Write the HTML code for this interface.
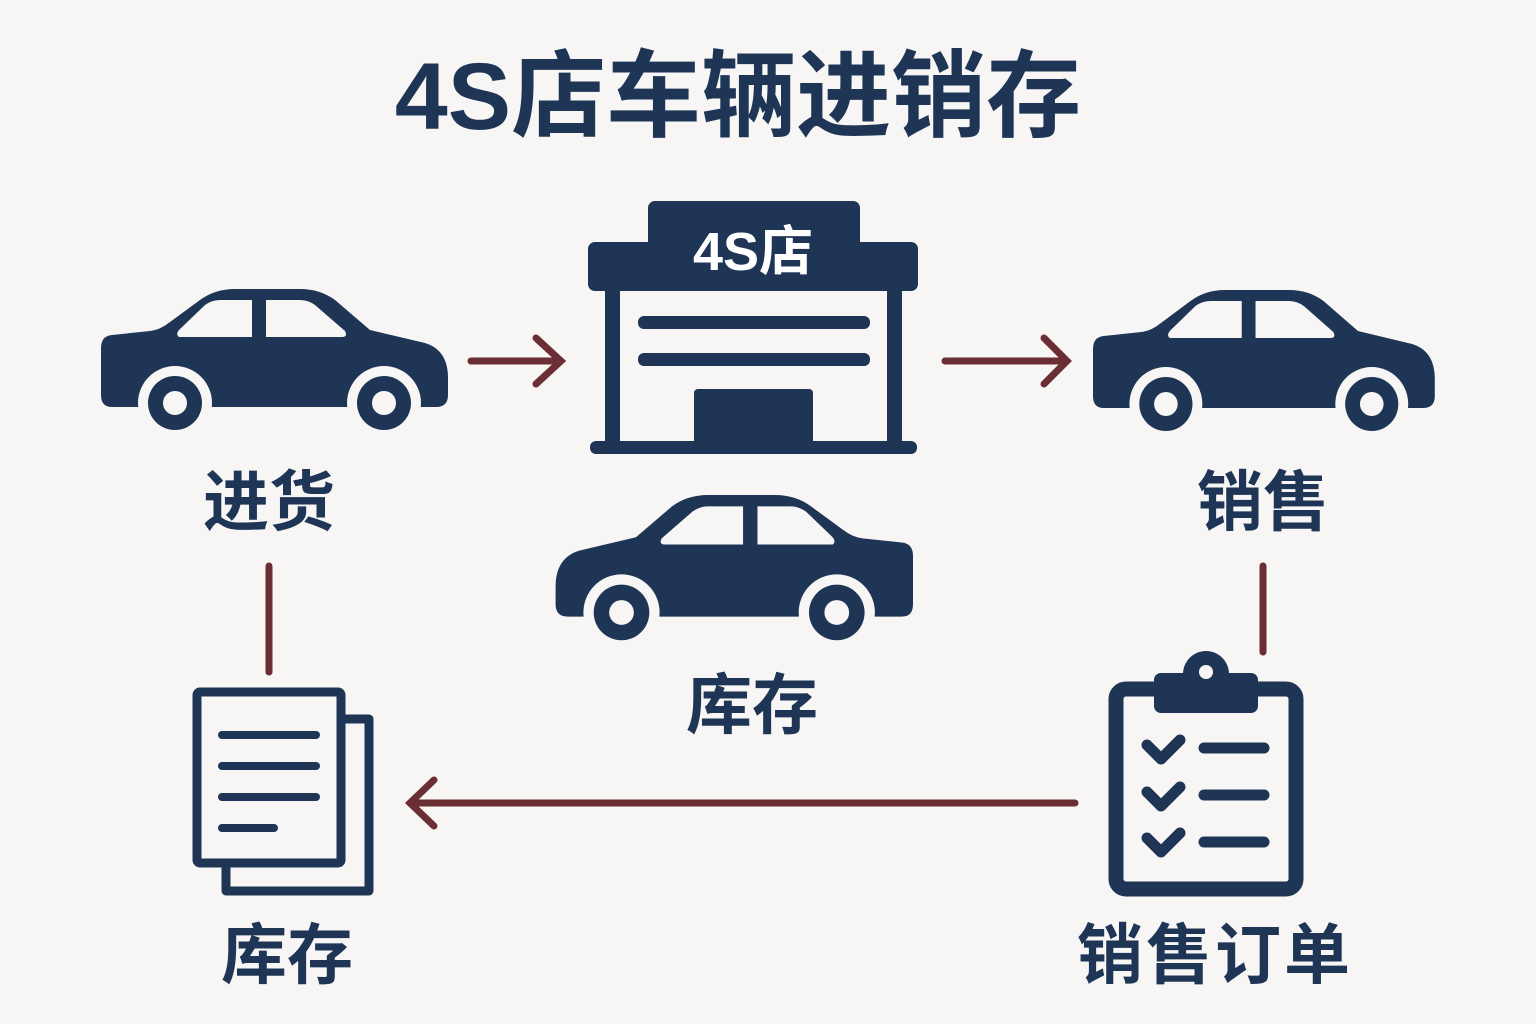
<!DOCTYPE html>
<html><head><meta charset="utf-8"><style>
html,body{margin:0;padding:0;background:#f7f6f4;}
svg{display:block}
text{font-family:"Liberation Sans","Noto Sans CJK SC",sans-serif;font-weight:bold;fill:#1e3556;text-anchor:middle}
</style></head><body>
<svg width="1536" height="1024" viewBox="0 0 1536 1024" xmlns="http://www.w3.org/2000/svg">
<defs>
<g id="car">
<path d="M112,335 L150,331 Q160,330 170,322 L200,300 Q215,289 235,289 L300,289 Q320,289 335,300 L370,330 L425,343 Q448,350 448,378 L448,395 Q448,407 436,407 L112,407 Q101,407 101,395 L101,348 Q101,336 112,335 Z" fill="#1e3556"/>
<path d="M179,337 Q175,334 180,329 L205,305 Q212,300 220,300 L252,300 L252,337 Z" fill="#f7f6f4"/>
<path d="M266,300 L300,300 Q308,300 315,305 L345,331 Q348,337 342,337 L266,337 Z" fill="#f7f6f4"/>
<circle cx="175" cy="403" r="37" fill="#f7f6f4"/>
<circle cx="384" cy="403" r="37" fill="#f7f6f4"/>
<circle cx="175" cy="403" r="27" fill="#1e3556"/>
<circle cx="384" cy="403" r="27" fill="#1e3556"/>
<circle cx="175" cy="403" r="12" fill="#f7f6f4"/>
<circle cx="384" cy="403" r="12" fill="#f7f6f4"/>
</g>
</defs>
<text x="738" y="129" font-size="95">4S店车辆进销存</text>

<use href="#car"/>
<use href="#car" transform="translate(1093,288) scale(0.985,1) translate(-101,-287)"/>
<use href="#car" transform="translate(913,493) scale(-1.03,1.03) translate(-101,-287)"/>

<!-- building -->
<g fill="#1e3556">
<rect x="648" y="201" width="212" height="50" rx="7"/>
<rect x="588" y="242" width="330" height="49" rx="7"/>
<rect x="605" y="285" width="15" height="160"/>
<rect x="887" y="285" width="15" height="160"/>
<rect x="590" y="441" width="327" height="13" rx="6"/>
<rect x="638" y="316" width="232" height="13" rx="6"/>
<rect x="638" y="353" width="232" height="13" rx="6"/>
<rect x="694" y="389" width="119" height="56" rx="4"/>
</g>
<text x="753" y="270" font-size="54" style="fill:#fff">4S店</text>

<!-- connectors -->
<g stroke="#6b2e35" stroke-width="7" stroke-linecap="round" fill="none">
<line x1="471" y1="361" x2="560" y2="361"/>
<polyline points="536,338 561,361 536,384"/>
<line x1="945" y1="361" x2="1066" y2="361"/>
<polyline points="1044,338 1067,361 1044,384"/>
<line x1="269" y1="566" x2="269" y2="672"/>
<line x1="1263" y1="566" x2="1263" y2="652"/>
<line x1="1075" y1="803" x2="410" y2="803"/>
<polyline points="434,780 410,803 434,826"/>
</g>

<!-- document -->
<g fill="none" stroke="#1e3556" stroke-width="9" stroke-linejoin="round">
<path d="M345,719 L369,719 L369,891 L226,891 L226,867"/>
<rect x="197" y="692" width="144" height="171" rx="3"/>
</g>
<g stroke="#1e3556" stroke-width="8" stroke-linecap="round">
<line x1="222" y1="735" x2="316" y2="735"/>
<line x1="222" y1="766" x2="316" y2="766"/>
<line x1="222" y1="797" x2="316" y2="797"/>
<line x1="222" y1="828" x2="274" y2="828"/>
</g>

<!-- clipboard -->
<rect x="1116" y="689" width="180" height="200" rx="10" fill="none" stroke="#1e3556" stroke-width="15"/>
<circle cx="1206" cy="674" r="23" fill="#1e3556"/>
<rect x="1154" y="673" width="104" height="40" rx="7" fill="#1e3556"/>
<circle cx="1206" cy="672" r="7" fill="#f7f6f4"/>
<g stroke="#1e3556" stroke-width="11" stroke-linecap="round" stroke-linejoin="round" fill="none">
<polyline points="1147,745 1161,759 1180,740"/>
<polyline points="1147,792 1161,806 1180,787"/>
<polyline points="1147,838 1161,852 1180,833"/>
<line x1="1204" y1="748" x2="1264" y2="748"/>
<line x1="1204" y1="795" x2="1264" y2="795"/>
<line x1="1204" y1="842" x2="1264" y2="842"/>
</g>

<text x="269" y="525" font-size="66">进货</text>
<text x="1263" y="525" font-size="66">销售</text>
<text x="752" y="728" font-size="66">库存</text>
<text x="287" y="978" font-size="66">库存</text>
<text x="1215" y="978" font-size="66" letter-spacing="3">销售订单</text>
</svg>
</body></html>
